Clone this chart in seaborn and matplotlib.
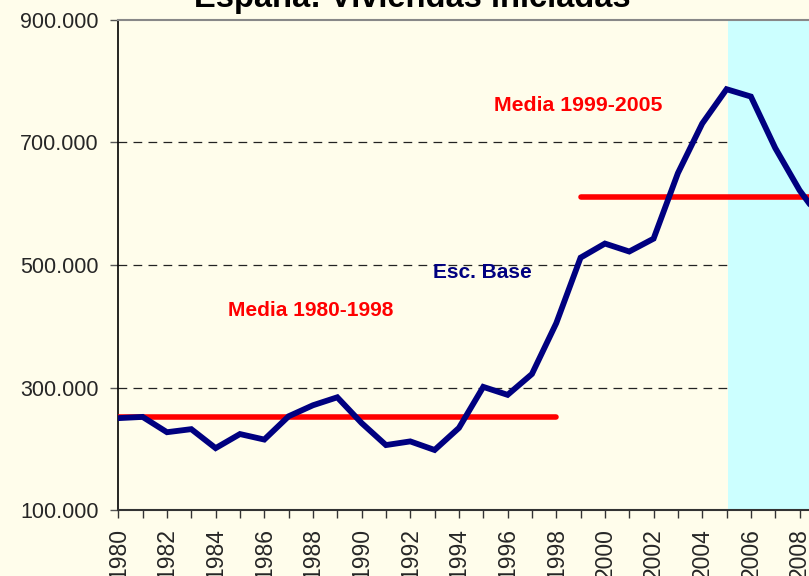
import matplotlib
matplotlib.use("Agg")
import matplotlib.pyplot as plt
import seaborn as sns
import pandas as pd
import numpy as np

years = list(range(1980, 2010))
viviendas = [250, 252, 227, 232, 201, 224, 215, 253, 271, 284,
             242, 206, 212, 198, 234, 301, 288, 322, 405, 512,
             535, 522, 543, 650, 731, 787, 775, 691, 622, 568]
viviendas = [v * 1000 for v in viviendas]

media1_years = [1980, 1998]
media1_value = [251500, 251500]
media2_years = [1999, 2009]
media2_value = [610500, 610500]

proj_start = 2005.07
proj_end = 2010

yticks = [100000, 300000, 500000, 700000, 900000]
ytick_labels = ["100.000", "300.000", "500.000", "700.000", "900.000"]

title = "España: Viviendas iniciadas"

sns.set_theme(style="white")
plt.rcParams['font.family'] = ['Liberation Sans', 'DejaVu Sans']

bg = "#FFFDEB"
fig = plt.figure(figsize=(8.09, 5.76), dpi=100, facecolor=bg)
ax = fig.add_axes([118.3 / 809, 66 / 576, 705.6 / 809, 490 / 576])
ax.set_facecolor(bg)

df = pd.DataFrame({"year": years, "v": viviendas})
d1 = pd.DataFrame({"year": media1_years, "v": media1_value})
d2 = pd.DataFrame({"year": media2_years, "v": media2_value})

# grid lines
for yv in yticks[1:-1]:
    ax.axhline(yv, color="#222222", lw=0.9, ls=(0, (7, 5)), zorder=1)

ax.axvspan(proj_start, proj_end, color="#CCFFFF", zorder=2, lw=0)

sns.lineplot(data=d1, x="year", y="v", ax=ax, color="#FF0000", lw=4,
             solid_capstyle="round", zorder=3)
sns.lineplot(data=d2, x="year", y="v", ax=ax, color="#FF0000", lw=4,
             solid_capstyle="round", zorder=3)
sns.lineplot(data=df, x="year", y="v", ax=ax, color="#000080", lw=4.2,
             solid_joinstyle="miter", zorder=4)

ax.set_xlim(1980, 2009)
ax.set_ylim(100000, 900000)
ax.set_xticks(years)
ax.set_xticklabels([str(y) if y % 2 == 0 else "" for y in years],
                   rotation=90, fontsize=16.5)
ax.set_yticks(yticks)
ax.set_yticklabels(ytick_labels, fontsize=15.5)
ax.set_xlabel("")
ax.set_ylabel("")
ax.tick_params(axis="x", direction="out", length=6, width=1, color="#333333",
               pad=7, bottom=True)
ax.tick_params(axis="y", direction="out", length=6, width=1, color="#555555",
               pad=8, left=True)
for lab in ax.get_xticklabels():
    lab.set_verticalalignment("top")

ax.spines["left"].set_color("black")
ax.spines["left"].set_linewidth(1.2)
ax.spines["bottom"].set_color("#333333")
ax.spines["bottom"].set_linewidth(1.5)
ax.spines["top"].set_color("#888888")
ax.spines["top"].set_linewidth(1.5)
ax.spines["right"].set_visible(False)

ax.text(1987.9, 900000 - (311 - 20) / 0.6125 * 1000,
        "Media 1980-1998", color="#FF0000", fontsize=15, fontweight="bold",
        ha="center", va="center", zorder=5)
ax.text(1998.9, 900000 - (106 - 20) / 0.6125 * 1000,
        "Media 1999-2005", color="#FF0000", fontsize=15.3, fontweight="bold",
        ha="center", va="center", zorder=5)
ax.text(1994.97, 900000 - (272.5 - 20) / 0.6125 * 1000,
        "Esc. Base", color="#000080", fontsize=15, fontweight="bold",
        ha="center", va="center", zorder=5)

fig.text(412 / 809, 1 - 7 / 576, title, fontsize=23.5, fontweight="bold",
         ha="center", va="baseline", color="black")

fig.savefig("out.png", dpi=100, facecolor=bg)
